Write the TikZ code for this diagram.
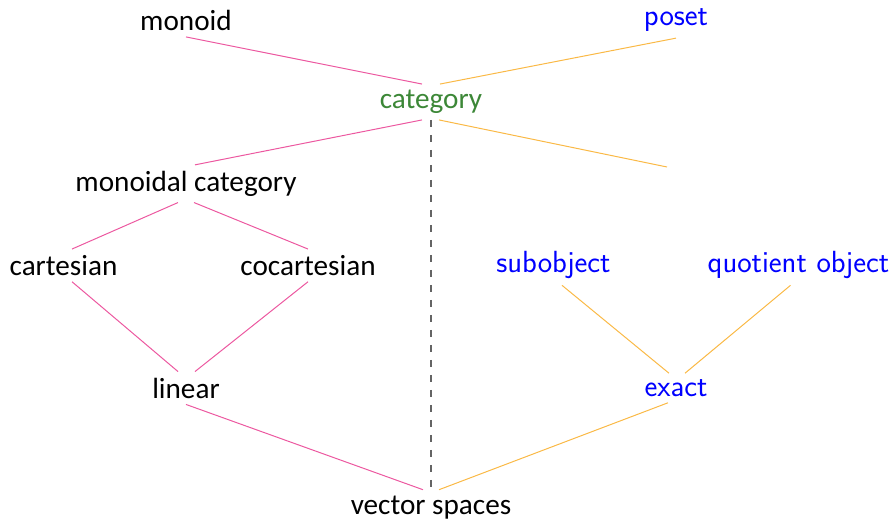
\documentclass[tikz,border=0pt]{standalone}
\usepackage{fontspec}
\setmainfont{Carlito}
\definecolor{pinkc}{RGB}{236,88,160}
\definecolor{orangec}{RGB}{250,185,70}
\definecolor{greenc}{RGB}{60,135,55}
\definecolor{bluec}{RGB}{0,0,255}
\definecolor{grayc}{RGB}{100,100,100}
\tikzset{
  lbl/.style={inner xsep=4pt, inner ysep=6pt, font=\fontsize{29.2pt}{34pt}\selectfont},
  blbl/.style={lbl, text=bluec, font=\fontsize{30.6pt}{36pt}\selectfont\sffamily},
  glbl/.style={lbl, text=greenc},
  pinkline/.style={draw=pinkc, line width=1pt},
  orangeline/.style={draw=orangec, line width=1pt},
  dashline/.style={draw=grayc, line width=1.6pt, dash pattern=on 7.5pt off 7.5pt}
}
\begin{document}
\begin{tikzpicture}[x=1pt, y=-1pt]
\useasboundingbox (0,0) rectangle (894,521);
\node[lbl]  (monoid)      at (186,20.5)  {monoid};
\node[blbl] (poset)       at (676,20.5)  {poset};
\node[glbl] (category)    at (431,102)   {category};
\node[lbl]  (monoidal)    at (186,183.7) {monoidal category};
\node[lbl]  (cartesian)   at (63.5,265.4) {cartesian};
\node[lbl]  (cocartesian) at (308,265.4) {cocartesian};
\node[blbl] (subobject)   at (553.5,265.4) {subobject};
\node[blbl] (quotient)    at (798.5,265.4) {quotient object};
\node[lbl]  (linear)      at (186,388)   {linear};
\node[blbl] (exact)       at (676,388)   {exact};
\node[lbl]  (vs)          at (431,507.5) {vector spaces};
\coordinate (freeend) at (667,167);

\draw[pinkline] (monoid.south) -- ([xshift=-9pt]category.north);
\draw[orangeline] (poset.south) -- ([xshift=9pt]category.north);
\draw[pinkline] ([xshift=-9pt]category.south) -- ([xshift=9pt]monoidal.north);
\draw[orangeline] ([xshift=8pt]category.south) -- (freeend);
\draw[pinkline] ([xshift=-8pt]monoidal.south) -- ([xshift=8.5pt]cartesian.north);
\draw[pinkline] ([xshift=8pt]monoidal.south) -- (cocartesian.north);
\draw[pinkline] ([xshift=8.5pt]cartesian.south) -- ([xshift=-8pt]linear.north);
\draw[pinkline] (cocartesian.south) -- ([xshift=9pt]linear.north);
\draw[orangeline] ([xshift=8.5pt]subobject.south) -- ([xshift=-7pt]exact.north);
\draw[orangeline] ([xshift=-8pt]quotient.south) -- ([xshift=9pt]exact.north);
\draw[pinkline] (linear.south) -- ([xshift=-8pt]vs.north);
\draw[orangeline] ([xshift=-8pt]exact.south) -- ([xshift=8pt]vs.north);
\draw[dashline] (category.south) -- (vs.north);
\end{tikzpicture}
\end{document}
